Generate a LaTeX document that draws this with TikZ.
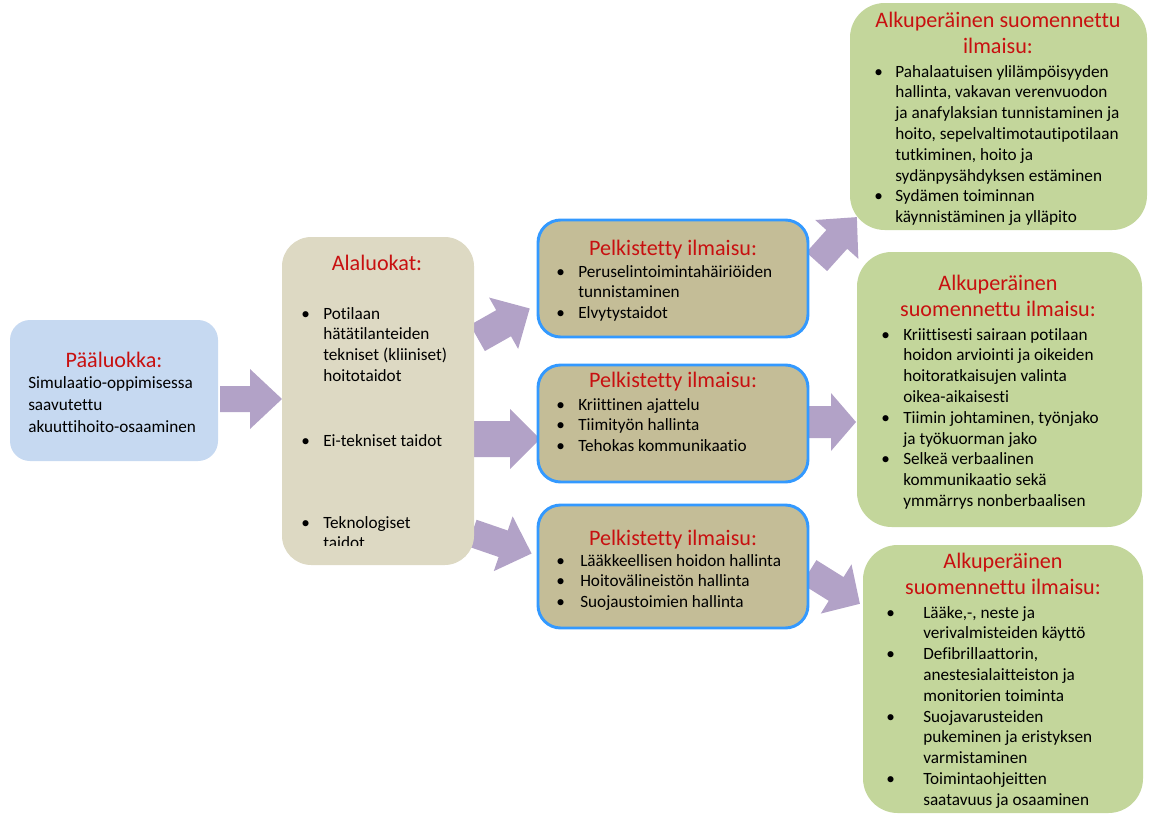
\documentclass[tikz,border=0pt]{standalone}
\usepackage{fontspec}
\setmainfont{Carlito}[Ligatures=NoCommon]
\usetikzlibrary{fit}

\definecolor{titlered}{RGB}{200,16,16}
\definecolor{blueFill}{RGB}{198,217,241}
\definecolor{beigeFill}{RGB}{221,217,195}
\definecolor{brownFill}{RGB}{196,189,151}
\definecolor{greenFill}{RGB}{195,214,155}
\definecolor{arrowFill}{RGB}{178,162,199}
\definecolor{frameBlue}{RGB}{51,153,255}

% hanging bullet list item
\newlength\bind
\newcommand\bl[1]{\par\noindent\hangindent=\bind\hangafter=1\makebox[\bind][l]{\textbullet}#1}
% top-aligned text blocks: the node baseline is the first line's baseline;
% \\ breaks a line without ending the paragraph, so the hanging indent holds
\newcommand\leftblock[1]{\parbox[t]{300pt}{\raggedright\let\\\newline #1}}
\newcommand\midblock[1]{\parbox[t]{300pt}{\centering #1}}

% block arrow: tail centre, angle, length, head length, shaft half width, head half width
\newcommand\blockarrow[6]{%
  \fill[arrowFill, shift={#1}, rotate=#2]
    (0,#5) -- ({#3-#4},#5) -- ({#3-#4},#6) -- (#3,0) -- ({#3-#4},-#6)
    -- ({#3-#4},-#5) -- (0,-#5) -- cycle;}

\tikzset{
  box/.style={inner sep=0pt, outer sep=0pt},
  bluebox/.style={box, fill=blueFill, rounded corners=15pt},
  beigebox/.style={box, fill=beigeFill, rounded corners=22pt},
  brownbox/.style={box, fill=brownFill, draw=frameBlue, line width=2.2pt, rounded corners=17pt},
  greenbox/.style={box, fill=greenFill, rounded corners=26pt},
  ttl/.style={text=titlered, inner sep=0pt, anchor=base,
    font=\fontsize{16.6}{20}\selectfont},
  bodytxt/.style={inner sep=0pt, anchor=base west,
    font=\fontsize{12.9}{15.6}\selectfont},
}

\begin{document}
\begin{tikzpicture}[x=0.75pt, y=-0.75pt]
\useasboundingbox (0,0) rectangle (1149,814);

% block arrows between the columns
\blockarrow{(220,399)}{0}{62}{32}{13}{30}
\blockarrow{(477.5,338)}{29.5}{60}{30}{15}{29.5}
\blockarrow{(473,439)}{0}{67}{30}{18}{30}
\blockarrow{(472,533)}{-19}{63}{30}{14}{29}
\blockarrow{(816.7,261.7)}{48}{60}{30}{14}{29}
\blockarrow{(806,422)}{0}{50}{25}{16}{29}
\blockarrow{(809,572)}{-32}{60}{28}{14}{29}

% main category
\node[bluebox, fit={(10,320) (218,461)}] (main) {};
\node[ttl] (mainT) at (114,367) {Pääluokka:};
\node[bodytxt, font=\fontsize{12.9}{16.5}\selectfont] (mainB) at (28,388)
  {\leftblock{Simulaatio-oppimisessa\\saavutettu\\akuuttihoito-osaaminen}};

% subcategories
\node[beigebox, fit={(282,237) (474,565)}] (sub) {};
\node[ttl] (subT) at (377,270) {Alaluokat:};
\setlength\bind{16.5pt}
\node[bodytxt] (subA) at (301,319)
  {\leftblock{\bl{Potilaan\\hätätilanteiden\\tekniset (kliiniset)\\hoitotaidot}}};
\node[bodytxt] (subB) at (301,446) {\leftblock{\bl{Ei-tekniset taidot}}};
\begin{scope}
  \clip (282,237) rectangle (474,545);
  \node[bodytxt] (subC) at (301,528) {\leftblock{\bl{Teknologiset\\taidot}}};
\end{scope}

% simplified expressions
\node[brownbox, fit={(538,220) (808,337)}] (s1) {};
\node[ttl] (s1T) at (673,255) {Pelkistetty ilmaisu:};
\setlength\bind{16.5pt}
\node[bodytxt] (s1L) at (556,277)
  {\leftblock{\bl{Peruselintoimintahäiriöiden\\tunnistaminen}\bl{Elvytystaidot}}};

\node[brownbox, fit={(538,365) (808,482)}] (s2) {};
\node[ttl] (s2T) at (673,387) {Pelkistetty ilmaisu:};
\node[bodytxt] (s2L) at (556,410)
  {\leftblock{\bl{Kriittinen ajattelu}\bl{Tiimityön hallinta}\bl{Tehokas kommunikaatio}}};

\node[brownbox, fit={(538,505) (808,628)}] (s3) {};
\node[ttl] (s3T) at (673,545) {Pelkistetty ilmaisu:};
\setlength\bind{18pt}
\node[bodytxt] (s3L) at (556,566)
  {\leftblock{\bl{Lääkkeellisen hoidon hallinta}\bl{Hoitovälineistön hallinta}\bl{Suojaustoimien hallinta}}};

% original translated expressions
\node[greenbox, fit={(850,3) (1147,230)}] (o1) {};
\node[ttl] (o1T) at (998,27) {\midblock{Alkuperäinen suomennettu\\ilmaisu:}};
\setlength\bind{15.75pt}
\node[bodytxt] (o1L) at (874,77)
  {\leftblock{\bl{Pahalaatuisen ylilämpöisyyden\\hallinta, vakavan verenvuodon\\ja anafylaksian tunnistaminen ja\\hoito, sepelvaltimotautipotilaan\\tutkiminen, hoito ja\\sydänpysähdyksen estäminen}%
   \bl{Sydämen toiminnan\\käynnistäminen ja ylläpito}}};

\node[greenbox, fit={(857,252) (1142,527)}] (o2) {};
\node[ttl] (o2T) at (998,290) {\midblock{Alkuperäinen\\suomennettu ilmaisu:}};
\setlength\bind{16.5pt}
\node[bodytxt] (o2L) at (881,340)
  {\leftblock{\bl{Kriittisesti sairaan potilaan\\hoidon arviointi ja oikeiden\\hoitoratkaisujen valinta\\oikea-aikaisesti}%
   \bl{Tiimin johtaminen, työnjako\\ja työkuorman jako}%
   \bl{Selkeä verbaalinen\\kommunikaatio sekä\\ymmärrys nonberbaalisen}}};

\node[greenbox, fit={(863,545) (1143,813)}] (o3) {};
\node[ttl] (o3T) at (1003,568) {\midblock{Alkuperäinen\\suomennettu ilmaisu:}};
\setlength\bind{27.75pt}
\node[bodytxt] (o3L) at (886,618)
  {\leftblock{\bl{Lääke,-, neste ja\\verivalmisteiden käyttö}%
   \bl{Defibrillaattorin,\\anestesialaitteiston ja\\monitorien toiminta}%
   \bl{Suojavarusteiden\\pukeminen ja eristyksen\\varmistaminen}%
   \bl{Toimintaohjeitten\\saatavuus ja osaaminen}}};
\end{tikzpicture}
\end{document}
